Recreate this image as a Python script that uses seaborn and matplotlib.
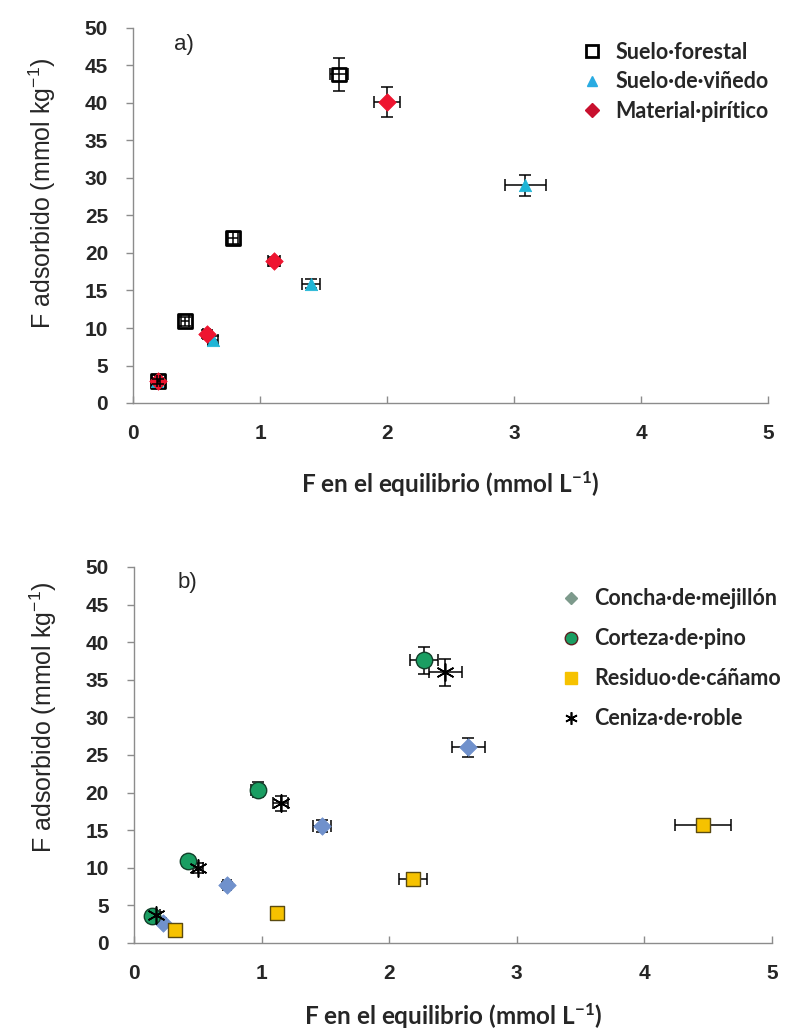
import matplotlib
matplotlib.use("Agg")
import matplotlib.pyplot as plt
import seaborn as sns
import pandas as pd
from matplotlib.lines import Line2D

# ---------------- data: panel a ----------------
series_a = ["Suelo·forestal", "Suelo·de·viñedo", "Material·pirítico"]
forestal_x = [0.20, 0.41, 0.79, 1.62]
forestal_y = [2.9, 10.9, 22.0, 43.8]
forestal_xerr = [0.01, 0.03, 0.04, 0.07]
forestal_yerr = [0.3, 0.6, 0.8, 2.2]

vinedo_x = [0.19, 0.63, 1.40, 3.09]
vinedo_y = [2.9, 8.4, 15.9, 29.0]
vinedo_xerr = [0.02, 0.04, 0.07, 0.16]
vinedo_yerr = [0.3, 0.5, 0.6, 1.4]

pirit_x = [0.20, 0.58, 1.11, 2.00]
pirit_y = [3.0, 9.2, 18.9, 40.1]
pirit_xerr = [0.02, 0.03, 0.05, 0.10]
pirit_yerr = [0.3, 0.5, 0.6, 2.0]

# ---------------- data: panel b ----------------
series_b = ["Concha·de·mejillón", "Corteza·de·pino", "Residuo·de·cáñamo", "Ceniza·de·roble"]
concha_x = [0.23, 0.73, 1.47, 2.62]
concha_y = [2.7, 7.7, 15.6, 26.0]
concha_xerr = [0.02, 0.03, 0.07, 0.13]
concha_yerr = [0.2, 0.4, 0.8, 1.2]

corteza_x = [0.14, 0.42, 0.97, 2.27]
corteza_y = [3.6, 10.9, 20.4, 37.6]
corteza_xerr = [0.02, 0.03, 0.05, 0.11]
corteza_yerr = [0.3, 0.5, 1.0, 1.8]

residuo_x = [0.32, 1.12, 2.19, 4.46]
residuo_y = [1.7, 4.0, 8.5, 15.7]
residuo_xerr = [0.02, 0.04, 0.11, 0.22]
residuo_yerr = [0.2, 0.3, 0.5, 0.6]

ceniza_x = [0.17, 0.50, 1.15, 2.44]
ceniza_y = [3.7, 10.0, 18.6, 36.0]
ceniza_xerr = [0.03, 0.04, 0.06, 0.13]
ceniza_yerr = [0.4, 0.7, 1.0, 1.8]

x_ticks = [0, 1, 2, 3, 4, 5]
y_ticks = [0, 5, 10, 15, 20, 25, 30, 35, 40, 45, 50]
x_label = "F en el equilibrio (mmol L$^{-1}$)"
y_label = "F adsorbido (mmol kg$^{-1}$)"

sns.set_theme(style="white")
plt.rcParams['font.family'] = ['Liberation Sans', 'DejaVu Sans']
plt.rcParams['mathtext.default'] = 'regular'

df_a = pd.DataFrame({
    "x": forestal_x + vinedo_x + pirit_x,
    "y": forestal_y + vinedo_y + pirit_y,
    "xerr": forestal_xerr + vinedo_xerr + pirit_xerr,
    "yerr": forestal_yerr + vinedo_yerr + pirit_yerr,
    "serie": [series_a[0]] * 4 + [series_a[1]] * 4 + [series_a[2]] * 4,
})
df_b = pd.DataFrame({
    "x": concha_x + corteza_x + residuo_x + ceniza_x,
    "y": concha_y + corteza_y + residuo_y + ceniza_y,
    "xerr": concha_xerr + corteza_xerr + residuo_xerr + ceniza_xerr,
    "yerr": concha_yerr + corteza_yerr + residuo_yerr + ceniza_yerr,
    "serie": [series_b[0]] * 4 + [series_b[1]] * 4 + [series_b[2]] * 4 + [series_b[3]] * 4,
})

fig = plt.figure(figsize=(8.09, 10.34), dpi=100)
W, H = 809, 1034
ax_a = fig.add_axes([133 / W, 1 - 403 / H, (768 - 133) / W, 375 / H])
ax_b = fig.add_axes([134 / W, 1 - 943 / H, (772 - 134) / W, 376 / H])

# ---- panel a ----
style_a = {
    series_a[0]: dict(marker="s", s=100, facecolor="none", edgecolor="black", linewidth=2.0),
    series_a[1]: dict(marker="^", s=80, color="#1fb5d6", edgecolor="#1fb5d6", linewidth=0.5),
    series_a[2]: dict(marker="D", s=80, color="#ee1530", edgecolor="#ee1530", linewidth=0.5),
}
for name in series_a:
    d = df_a[df_a.serie == name]
    ax_a.errorbar(d.x, d.y, xerr=d.xerr, yerr=d.yerr, fmt="none", ecolor="black",
                  elinewidth=1.1, capsize=4, capthick=1.1, zorder=3 if name == series_a[0] else 1)
    sns.scatterplot(data=d, x="x", y="y", ax=ax_a, zorder=2, legend=False, **style_a[name])

# ---- panel b ----
style_b = {
    series_b[0]: dict(marker="D", s=80, color="#7091cc", edgecolor="#7091cc", linewidth=0.5),
    series_b[1]: dict(marker="o", s=140, color="#1a9e62", edgecolor="#12402a", linewidth=1.0),
    series_b[2]: dict(marker="s", s=95, color="#f6c200", edgecolor="#5a4a10", linewidth=1.0),
    series_b[3]: dict(marker=(6, 2, 0), s=150, color="black", linewidth=1.2),
}
for name in series_b:
    d = df_b[df_b.serie == name]
    ax_b.errorbar(d.x, d.y, xerr=d.xerr, yerr=d.yerr, fmt="none", ecolor="black",
                  elinewidth=1.1, capsize=4, capthick=1.1, zorder=1)
    sns.scatterplot(data=d, x="x", y="y", ax=ax_b, zorder=2, legend=False, **style_b[name])

for ax, lp in ((ax_a, 19), (ax_b, 13)):
    ax.set_xlim(0, 5)
    ax.set_ylim(0, 50)
    ax.set_xticks(x_ticks)
    ax.set_yticks(y_ticks)
    ax.set_xticklabels([str(t) for t in x_ticks], fontsize=15, fontweight="bold")
    ax.set_yticklabels([str(t) for t in y_ticks], fontsize=15, fontweight="bold")
    for side in ("top", "right"):
        ax.spines[side].set_visible(False)
    for side in ("left", "bottom"):
        ax.spines[side].set_color("#8c8c8c")
        ax.spines[side].set_linewidth(1.0)
    ax.tick_params(axis="y", direction="out", length=5, color="#8c8c8c", width=1, pad=13, left=True)
    ax.tick_params(axis="x", direction="in", length=5, color="#8c8c8c", width=1, pad=15, bottom=True)
    ax.set_xlabel(x_label, fontsize=17.5, fontweight="bold", family=["Lato", "DejaVu Sans"], labelpad=lp)
    ax.set_ylabel(y_label, fontsize=18, family=["Liberation Sans", "DejaVu Sans"])
    ax.set_facecolor("white")

ax_a.yaxis.set_label_coords(-0.118, 0.56)
ax_b.yaxis.set_label_coords(-0.118, 0.60)

ax_a.text(0.065, 0.955, "a)", transform=ax_a.transAxes, fontsize=16, va="center")
ax_b.text(0.068, 0.96, "b)", transform=ax_b.transAxes, fontsize=16, va="center")

# legends
leg_font = dict(family=["Lato", "DejaVu Sans"], weight="bold", size=15.5)
h_a = [
    Line2D([], [], ls="none", marker="s", ms=9, mfc="none", mec="black", mew=2),
    Line2D([], [], ls="none", marker="^", ms=7, color="#29abe2"),
    Line2D([], [], ls="none", marker="D", ms=7, color="#c8102e"),
]
ax_a.legend(h_a, series_a, loc="upper left", bbox_to_anchor=(0.675, 1.015), frameon=False,
            prop=leg_font, handlelength=1.0, handletextpad=0.6, labelspacing=0.4)
h_b = [
    Line2D([], [], ls="none", marker="D", ms=6, color="#7d9a8c"),
    Line2D([], [], ls="none", marker="o", ms=9, mfc="#1a9e62", mec="#5a2020", mew=1),
    Line2D([], [], ls="none", marker="s", ms=9, mfc="#f6c200", mec="#f6c200"),
    Line2D([], [], ls="none", marker=(6, 2, 0), ms=9, color="black", mew=1.2),
]
ax_b.legend(h_b, series_b, loc="upper left", bbox_to_anchor=(0.637, 0.995), frameon=False,
            prop=leg_font, handlelength=1.0, handletextpad=0.6, labelspacing=0.88)

fig.savefig("out.png", dpi=100, facecolor="white")
